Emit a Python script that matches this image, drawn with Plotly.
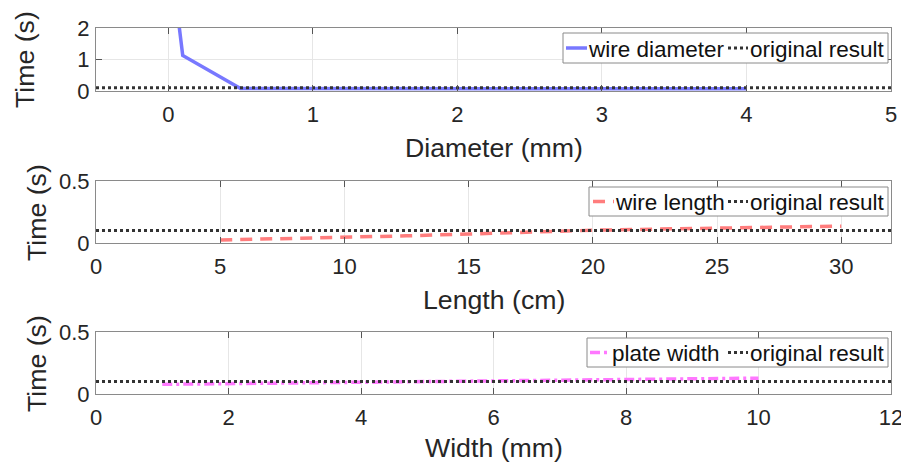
import plotly.graph_objects as go

# ---- data ----
diameter_mm = [0.05, 0.1, 0.5, 1.0, 1.5, 2.0, 2.5, 3.0, 3.5, 4.0]
diameter_time = [3.0, 1.13, 0.08, 0.075, 0.075, 0.072, 0.072, 0.07, 0.07, 0.07]

length_cm = [5, 7.5, 10, 12.5, 15, 17.5, 20, 22.5, 25, 27.5, 30]
length_time = [0.024, 0.034, 0.045, 0.058, 0.072, 0.09, 0.103, 0.112, 0.12, 0.128, 0.136]

width_mm = [1, 2, 3, 4, 5, 6, 7, 8, 9, 10]
width_time = [0.078, 0.083, 0.089, 0.094, 0.099, 0.104, 0.109, 0.115, 0.121, 0.128]

original_result = 0.1

x_ranges = [[-0.5, 5], [0, 32], [0, 12]]
y_ranges = [[0, 2], [0, 0.5], [0, 0.5]]
x_ticks = [[0, 1, 2, 3, 4, 5], [0, 5, 10, 15, 20, 25, 30], [0, 2, 4, 6, 8, 10, 12]]
y_ticks = [[0, 1, 2], [0, 0.5], [0, 0.5]]
y_ticktext = [["0", "1", "2"], ["0", "0.5"], ["0", "0.5"]]
x_titles = ["Diameter (mm)", "Length (cm)", "Width (mm)"]
y_title = "Time (s)"
series_names = ["wire diameter", "wire length", "plate width"]
ref_name = "original result"

# The page body has an 8px margin, so the figure is drawn 8px in from the window corner.
OFF = 8
WIN_W, WIN_H = 909, 468
W, H = WIN_W - OFF, WIN_H - OFF
FONT = "Liberation Sans, Arial, Helvetica, sans-serif"
TXT = "#262626"

def px_x(p):
    return (p - OFF) / W

def px_y(p):
    return 1 - (p - OFF) / H

PL, PR = 96, 891
x_dom = [px_x(PL), px_x(PR)]
panel_px = [(28, 91), (181, 243), (332, 394)]  # (top, bottom) in window pixels
y_doms = [[px_y(b), px_y(t)] for t, b in panel_px]

xtitle_mid = [148, 300, 448]
ytitle_mid = [(25, 60), (37, 212), (37, 363)]

# manual legend geometry (window pixels)
leg_box = [(563, 33, 888, 63), (589, 187, 888, 216), (587, 338, 888, 367)]
leg_text1_left = [588, 615, 612]
leg_text2_left = 749

fig = go.Figure()

styles = [
    dict(color="rgb(120,120,255)", width=3.5, dash="solid"),
    dict(color="rgb(255,125,125)", width=3.5, dash="12px,8px"),
    dict(color="rgb(255,120,255)", width=3.5, dash="10px,4px,3px,4px"),
]
ref_style = dict(color="#333333", width=3, dash="dot")

data = [(diameter_mm, diameter_time), (length_cm, length_time), (width_mm, width_time)]

for i in range(3):
    xa = "x" if i == 0 else f"x{i+1}"
    ya = "y" if i == 0 else f"y{i+1}"
    xs, ys = data[i]
    fig.add_trace(go.Scatter(x=xs, y=ys, mode="lines", line=styles[i], name=series_names[i],
                             xaxis=xa, yaxis=ya, showlegend=False))
    fig.add_trace(go.Scatter(x=x_ranges[i], y=[original_result, original_result], mode="lines",
                             line=ref_style, name=ref_name, xaxis=xa, yaxis=ya, showlegend=False))

layout = dict(
    width=W, height=H, margin=dict(l=0, r=0, t=0, b=0, autoexpand=False),
    paper_bgcolor="white", plot_bgcolor="white",
    font=dict(family=FONT, color=TXT, size=22),
    showlegend=False,
)

annotations = []
shapes = []

for i in range(3):
    xk = "xaxis" if i == 0 else f"xaxis{i+1}"
    yk = "yaxis" if i == 0 else f"yaxis{i+1}"
    ya = "y" if i == 0 else f"y{i+1}"
    xa = "x" if i == 0 else f"x{i+1}"
    common = dict(showgrid=True, gridcolor="#e6e6e6", gridwidth=1, zeroline=False,
                  showline=True, linecolor="#8a8a8a", linewidth=1, mirror="ticks",
                  ticks="inside", ticklen=6, tickcolor="#555555", tickwidth=1,
                  tickfont=dict(size=22, color=TXT), automargin=False)
    layout[xk] = dict(domain=x_dom, anchor=ya, range=x_ranges[i], tickvals=x_ticks[i],
                      ticklabelstandoff=4, **common)
    layout[yk] = dict(domain=y_doms[i], anchor=xa, range=y_ranges[i],
                      tickvals=y_ticks[i], ticktext=y_ticktext[i], ticklabelstandoff=1, **common)

    # axis titles
    annotations.append(dict(text=x_titles[i], xref="paper", yref="paper",
                            x=px_x((PL + PR) / 2), y=px_y(xtitle_mid[i]),
                            xanchor="center", yanchor="middle", showarrow=False,
                            font=dict(size=26.7, color=TXT)))
    tx, ty = ytitle_mid[i]
    annotations.append(dict(text=y_title, xref="paper", yref="paper",
                            x=px_x(tx), y=px_y(ty), textangle=-90,
                            xanchor="center", yanchor="middle", showarrow=False,
                            font=dict(size=26.7, color=TXT)))

    # legend box
    x0, y0, x1, y1 = leg_box[i]
    shapes.append(dict(type="rect", xref="paper", yref="paper",
                       x0=px_x(x0), x1=px_x(x1), y0=px_y(y1), y1=px_y(y0),
                       line=dict(color="#8a8a8a", width=1), fillcolor="white", layer="above"))
    ym = (y0 + y1) / 2
    t1 = leg_text1_left[i]
    shapes.append(dict(type="line", xref="paper", yref="paper",
                       x0=px_x(t1 - 22), x1=px_x(t1 - 1), y0=px_y(ym), y1=px_y(ym),
                       line=styles[i], layer="above"))
    shapes.append(dict(type="line", xref="paper", yref="paper",
                       x0=px_x(leg_text2_left - 21), x1=px_x(leg_text2_left - 1),
                       y0=px_y(ym), y1=px_y(ym), line=ref_style, layer="above"))
    annotations.append(dict(text=series_names[i], xref="paper", yref="paper",
                            x=px_x(t1 - 2), y=px_y(ym + 1), xanchor="left", yanchor="middle",
                            showarrow=False, font=dict(size=22.5, color="#111111")))
    annotations.append(dict(text=ref_name, xref="paper", yref="paper",
                            x=px_x(leg_text2_left - 1), y=px_y(ym + 1), xanchor="left",
                            yanchor="middle", showarrow=False,
                            font=dict(size=22.5, color="#111111")))

layout["annotations"] = annotations
layout["shapes"] = shapes
fig.update_layout(**layout)
fig.write_html("out.html")
